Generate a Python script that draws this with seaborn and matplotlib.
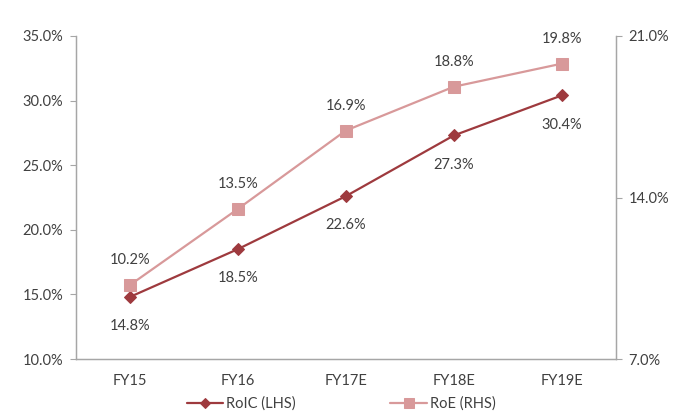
import matplotlib
matplotlib.use("Agg")
import matplotlib.pyplot as plt
import seaborn as sns
import pandas as pd
import numpy as np
from matplotlib.ticker import FixedLocator, PercentFormatter

categories = ["FY15", "FY16", "FY17E", "FY18E", "FY19E"]
roic = [14.8, 18.5, 22.6, 27.3, 30.4]
roe = [10.2, 13.5, 16.9, 18.8, 19.8]
left_ticks = [10, 15, 20, 25, 30, 35]
right_ticks = [7, 14, 21]

sns.set_theme(style="white")
plt.rcParams['font.family'] = ['Lato', 'DejaVu Sans']

c_roic = "#9E3A3E"
c_roe = "#D8999A"
txt = "#404040"
spine = "#A6A6A6"
fs = 10.5

df = pd.DataFrame({"cat": categories, "x": np.arange(len(categories)), "RoIC": roic, "RoE": roe})

fig = plt.figure(figsize=(6.82, 4.18), dpi=100)
ax = fig.add_axes([0.111, 0.141, 0.792, 0.773])
ax2 = ax.twinx()

sns.lineplot(data=df, x="x", y="RoIC", ax=ax, color=c_roic, marker="D", markersize=6,
             markeredgecolor=c_roic, linewidth=1.6, label="RoIC (LHS)", legend=False)
sns.lineplot(data=df, x="x", y="RoE", ax=ax2, color=c_roe, marker="s", markersize=9,
             markeredgecolor=c_roe, linewidth=1.6, label="RoE (RHS)", legend=False)

ax.set_xlim(-0.5, len(categories) - 0.5)
ax.set_ylim(10, 35)
ax2.set_ylim(7, 21)
ax.yaxis.set_major_locator(FixedLocator(left_ticks))
ax2.yaxis.set_major_locator(FixedLocator(right_ticks))
ax.yaxis.set_major_formatter(PercentFormatter(decimals=1))
ax2.yaxis.set_major_formatter(PercentFormatter(decimals=1))

ax.set_xticks(np.arange(len(categories)))
ax.set_xticklabels(categories)
ax.set_xticks(np.arange(len(categories) + 1) - 0.5, minor=True)
ax.tick_params(axis="x", which="major", length=0, pad=11, colors=txt, labelsize=fs)
ax.tick_params(axis="x", which="minor", length=4, color=spine, width=0.8, direction="out")
ax.tick_params(axis="y", length=4, color=spine, width=0.8, colors=txt, labelsize=fs, direction="out", pad=5)
ax2.tick_params(axis="y", length=4, color=spine, width=0.8, colors=txt, labelsize=fs, direction="out", pad=5)
ax.set_xlabel("")
ax.set_ylabel("")
ax2.set_ylabel("")

for a in (ax, ax2):
    a.spines["top"].set_visible(False)
    for s in ["left", "right", "bottom"]:
        a.spines[s].set_color(spine)
        a.spines[s].set_linewidth(0.9)

for i, v in enumerate(roic):
    ax.annotate(f"{v:.1f}%", (i, v), xytext=(0, -16), textcoords="offset points",
                ha="center", va="top", fontsize=fs, color=txt)
for i, v in enumerate(roe):
    ax2.annotate(f"{v:.1f}%", (i, v), xytext=(0, 13), textcoords="offset points",
                 ha="center", va="bottom", fontsize=fs, color=txt)

h1, l1 = ax.get_legend_handles_labels()
h2, l2 = ax2.get_legend_handles_labels()
leg = fig.legend(h1 + h2, l1 + l2, loc="lower center", ncol=2, frameon=False,
                 bbox_to_anchor=(0.5, -0.015), fontsize=fs, columnspacing=6.5, handlelength=2.5,
                 handletextpad=0.2, labelcolor=txt, markerscale=0.8)

fig.savefig("out.png", dpi=100)
